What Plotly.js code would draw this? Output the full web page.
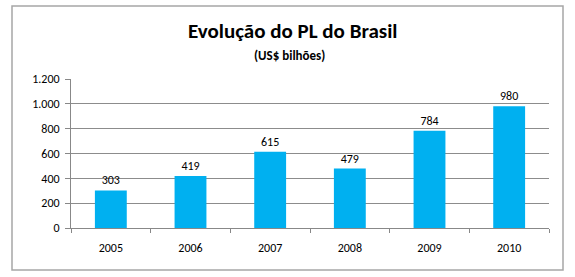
<!DOCTYPE html>
<html>
<head>
<meta charset="utf-8">
<script src="https://cdn.plot.ly/plotly-3.0.1.min.js"></script>
<style>
  html, body { margin: 0; padding: 0; background: #ffffff; }
  #chart { width: 575px; height: 277px; }
</style>
</head>
<body>
<div id="chart"></div>
<script>
// Patrimônio líquido (PL) do Brasil, em US$ bilhões
const years = ['2005', '2006', '2007', '2008', '2009', '2010'];
const plValues = [303, 419, 615, 479, 784, 980];
const yTicks = [0, 200, 400, 600, 800, 1000, 1200];

const W = 575, H = 277;
const margin = { l: 71, r: 26, t: 79, b: 49 };
const plotW = W - margin.l - margin.r;
const plotH = H - margin.t - margin.b;
// convert pixel positions to paper coordinates for the frame around the chart
const px = x => (x - margin.l) / plotW;
const py = y => (H - margin.b - y) / plotH;

const font = 'Carlito, "Open Sans", "Liberation Sans", sans-serif';

const trace = {
  type: 'bar',
  x: years,
  y: plValues,
  text: plValues.map(String),
  textposition: 'outside',
  cliponaxis: false,
  textfont: { family: font, size: 12, color: '#000000' },
  marker: { color: '#00B0F0', line: { width: 0 } },
  hoverinfo: 'skip'
};

const layout = {
  width: W,
  height: H,
  margin: margin,
  paper_bgcolor: '#ffffff',
  plot_bgcolor: '#ffffff',
  separators: ',.',
  bargap: 0.6,
  showlegend: false,
  font: { family: font, size: 12, color: '#000000' },
  xaxis: {
    type: 'category',
    showgrid: false,
    showline: true,
    linecolor: '#888888',
    linewidth: 1,
    ticks: 'outside',
    tickson: 'boundaries',
    ticklen: 4,
    tickcolor: '#888888',
    ticklabelstandoff: 9,
    tickfont: { family: font, size: 12 },
    zeroline: false,
    fixedrange: true
  },
  yaxis: {
    range: [0, 1200],
    tickvals: yTicks,
    tickformat: ',d',
    showgrid: true,
    gridcolor: '#8c8c8c',
    gridwidth: 1,
    showline: true,
    linecolor: '#888888',
    linewidth: 1,
    ticks: 'outside',
    ticklen: 5,
    tickcolor: '#888888',
    ticklabelstandoff: 3,
    tickfont: { family: font, size: 12 },
    zeroline: false,
    fixedrange: true
  },
  annotations: [
    {
      text: '<b>Evolução do PL do Brasil</b>',
      xref: 'paper', yref: 'paper',
      x: px(292), y: py(31),
      xanchor: 'center', yanchor: 'middle',
      showarrow: false,
      font: { family: font, size: 21, color: '#000000' }
    },
    {
      text: '<b>(US$ bilhões)</b>',
      xref: 'paper', yref: 'paper',
      x: px(289), y: py(55),
      xanchor: 'center', yanchor: 'middle',
      showarrow: false,
      font: { family: font, size: 13, color: '#000000' }
    }
  ],
  shapes: [
    {
      type: 'rect',
      xref: 'paper', yref: 'paper',
      x0: px(12), x1: px(563),
      y0: py(270), y1: py(6),
      line: { color: '#a6a6a6', width: 1.5 },
      fillcolor: 'rgba(0,0,0,0)',
      layer: 'below'
    }
  ]
};

Plotly.newPlot('chart', [trace], layout, { displayModeBar: false, staticPlot: true });
</script>
</body>
</html>
